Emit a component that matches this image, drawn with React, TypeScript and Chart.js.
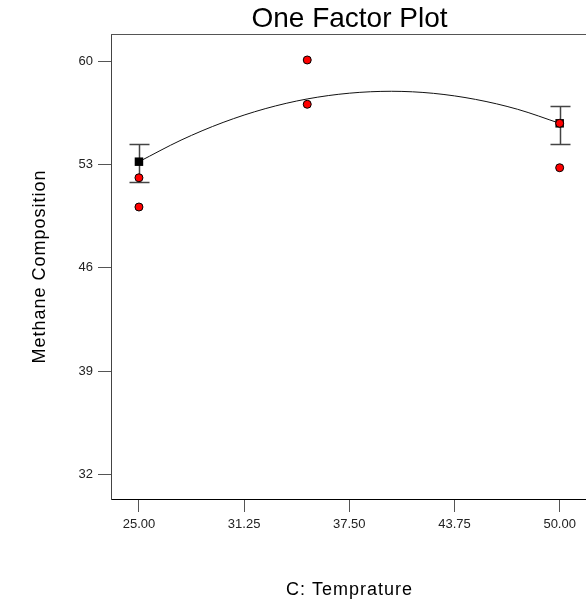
import React, { useEffect, useRef } from "react";
import { Chart, registerables } from "chart.js";

Chart.register(...registerables);

// ---- data ----
const xTicks = [25, 31.25, 37.5, 43.75, 50];
const yTicks = [32, 39, 46, 53, 60];

const pointX = [25, 25, 35, 35, 50, 50];
const pointY = [52.09, 50.11, 60.07, 57.07, 55.78, 52.77];

const meanX = [25, 50];
const meanY = [53.18, 55.78];
const errLow = [51.78, 54.4];
const errHigh = [54.35, 56.95];

const curveX = [25, 27.5, 30, 32.5, 35, 37.5, 40, 42.5, 45, 47.5, 50];
const curveY = [53.18, 54.64, 55.84, 56.77, 57.43, 57.82, 57.95, 57.81, 57.4, 56.73, 55.78];

const titleText = "One Factor Plot";
const xTitle = "C: Temprature";
const yTitle = "Methane Composition";

const FONT = "'Liberation Sans', Arial, Helvetica, sans-serif";

export default function App() {
  const ref = useRef<HTMLCanvasElement | null>(null);

  useEffect(() => {
    const canvas = ref.current;
    if (!canvas) return;

    const errorBars = {
      id: "errorBars",
      beforeDatasetsDraw(chart: any) {
        const ctx = chart.ctx;
        const xs = chart.scales.x;
        const ys = chart.scales.y;
        ctx.save();
        ctx.strokeStyle = "#444";
        ctx.lineWidth = 1.5;
        meanX.forEach((mx, i) => {
          const px = Math.round(xs.getPixelForValue(mx)) + 0.5;
          const pTop = Math.round(ys.getPixelForValue(errHigh[i])) + 0.5;
          const pBot = Math.round(ys.getPixelForValue(errLow[i])) + 0.5;
          ctx.beginPath();
          ctx.moveTo(px, pTop);
          ctx.lineTo(px, pBot);
          ctx.moveTo(px - 10, pTop);
          ctx.lineTo(px + 10, pTop);
          ctx.moveTo(px - 10, pBot);
          ctx.lineTo(px + 10, pBot);
          ctx.stroke();
        });
        ctx.restore();
      },
    };

    const frameAndText = {
      id: "frameAndText",
      afterDraw(chart: any) {
        const ctx = chart.ctx;
        const ca = chart.chartArea;
        ctx.save();
        // top frame line
        ctx.strokeStyle = "#555";
        ctx.lineWidth = 1;
        ctx.beginPath();
        ctx.moveTo(ca.left, Math.round(ca.top) + 0.5);
        ctx.lineTo(chart.width, Math.round(ca.top) + 0.5);
        ctx.stroke();

        const cx = (ca.left + ca.right) / 2;
        ctx.fillStyle = "#000";
        ctx.textAlign = "center";
        ctx.textBaseline = "alphabetic";
        ctx.font = `28px ${FONT}`;
        ctx.fillText(titleText, cx, 27);

        (ctx as any).letterSpacing = "1px";
        ctx.font = `18px ${FONT}`;
        ctx.fillText(xTitle, cx, 595);

        ctx.translate(45, (ca.top + ca.bottom) / 2);
        ctx.rotate(-Math.PI / 2);
        ctx.fillText(yTitle, 0, 0);
        ctx.restore();
      },
    };

    const chart = new Chart(canvas, {
      type: "scatter",
      data: {
        datasets: [
          {
            label: "fit",
            data: curveX.map((x, i) => ({ x, y: curveY[i] })),
            showLine: true,
            borderColor: "#111",
            borderWidth: 1,
            pointRadius: 0,
            cubicInterpolationMode: "monotone",
            order: 3,
          } as any,
          {
            label: "mean",
            data: meanX.map((x, i) => ({ x, y: meanY[i] })),
            pointStyle: "rect",
            pointRadius: 6,
            backgroundColor: "#000",
            borderColor: "#000",
            borderWidth: 0,
            order: 2,
          },
          {
            label: "actual",
            data: pointX.map((x, i) => ({ x, y: pointY[i] })),
            pointStyle: "circle",
            pointRadius: 4,
            backgroundColor: "#ff0000",
            borderColor: "#000",
            borderWidth: 1,
            order: 1,
          },
        ],
      },
      options: {
        animation: false,
        responsive: false,
        devicePixelRatio: 1,
        layout: { padding: { top: 34, left: 0, right: 0, bottom: 0 } },
        plugins: {
          legend: { display: false },
          title: { display: false },
          tooltip: { enabled: false },
        },
        scales: {
          x: {
            type: "linear",
            min: 23.339,
            max: 51.684,
            afterBuildTicks: (s: any) => {
              s.ticks = xTicks.map((v) => ({ value: v }));
            },
            afterFit: (s: any) => {
              s.height = 102;
            },
            grid: {
              drawOnChartArea: false,
              drawTicks: true,
              tickLength: 13,
              tickColor: "#555",
              color: "#555",
            },
            border: { display: true, color: "#000", width: 1 },
            ticks: {
              padding: 5,
              color: "#222",
              font: { family: FONT, size: 13 },
              maxRotation: 0,
              autoSkip: false,
              callback: (v: any) => Number(v).toFixed(2),
            },
          },
          y: {
            type: "linear",
            min: 30.33,
            max: 61.83,
            afterBuildTicks: (s: any) => {
              s.ticks = yTicks.map((v) => ({ value: v }));
            },
            afterFit: (s: any) => {
              s.width = 111;
            },
            grid: {
              drawOnChartArea: false,
              drawTicks: true,
              tickLength: 13,
              tickColor: "#555",
              color: "#555",
            },
            border: { display: true, color: "#444", width: 1 },
            ticks: {
              padding: 5,
              color: "#222",
              font: { family: FONT, size: 13 },
              autoSkip: false,
              callback: (v: any) => String(v),
            },
          },
        },
      },
      plugins: [errorBars, frameAndText],
    });

    return () => chart.destroy();
  }, []);

  return (
    <div
      style={{
        position: "fixed",
        left: 0,
        top: 0,
        width: 586,
        height: 601,
        overflow: "hidden",
        background: "#fff",
      }}
    >
      <canvas ref={ref} width={594} height={601} style={{ display: "block" }} />
    </div>
  );
}
